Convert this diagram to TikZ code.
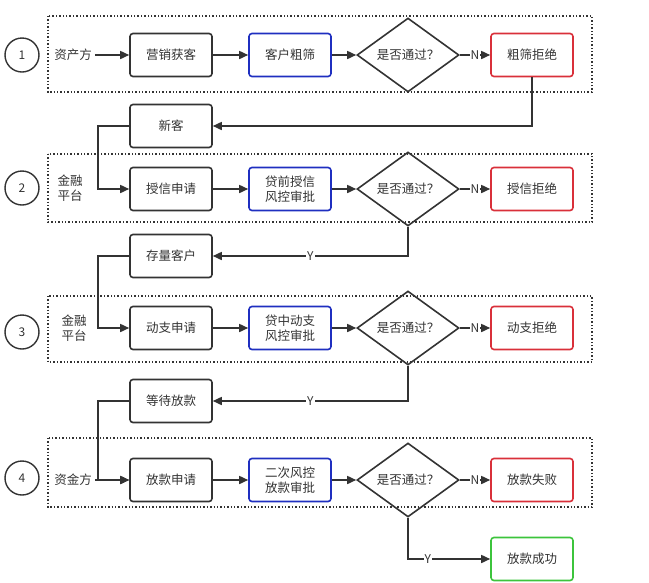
\documentclass[tikz,border=0pt]{standalone}
\usepackage{fontspec}
\setmainfont{Noto Sans CJK SC}
\usetikzlibrary{shapes.geometric,arrows.meta}
\definecolor{dk}{HTML}{333333}
\definecolor{bl}{HTML}{1F2FC0}
\definecolor{rd}{HTML}{D9303A}
\definecolor{gn}{HTML}{3CC43C}
\begin{document}
\begin{tikzpicture}[x=1pt,y=-1pt,
  font=\fontsize{12.5}{14}\selectfont, text=dk,
  box/.style={draw=dk,line width=1.6pt,rounded corners=3pt,minimum width=82pt,minimum height=43pt,align=center,inner sep=1pt,font=\fontsize{12.5}{15}\selectfont},
  bbox/.style={box,draw=bl},
  rbox/.style={box,draw=rd},
  gbox/.style={box,draw=gn},
  dia/.style={diamond,draw=dk,line width=1.6pt,minimum width=102pt,minimum height=58pt,inner sep=0pt,font=\fontsize{12.5}{14}\selectfont},
  circ/.style={circle,draw=dk,line width=1.4pt,minimum size=34pt,inner sep=0pt,font=\fontsize{12}{14}\selectfont},
  zone/.style={draw=dk,line width=1.4pt,dotted},
  arr/.style={draw=dk,line width=1.6pt,-{Triangle[width=8pt,length=9pt]}},
  lbl/.style={fill=white,inner sep=1pt,font=\fontsize{12}{13}\selectfont},
  side/.style={align=left,inner sep=0pt,font=\fontsize{12.5}{15}\selectfont}]
\useasboundingbox (0,0) rectangle (649,582);
\draw[zone] (48,16) rectangle (592,92);
\draw[zone] (48,154) rectangle (592,222);
\draw[zone] (48,296) rectangle (592,362);
\draw[zone] (48,438) rectangle (592,507);
\node[circ] (c1) at (22,55) {1};
\node[circ] (c2) at (22,188) {2};
\node[circ] (c3) at (22,332) {3};
\node[circ] (c4) at (22,478) {4};
\node[side] (s1) at (73,55) {资产方};
\node[side] (s2) at (70,188) {金融\\平台};
\node[side] (s3) at (74,328) {金融\\平台};
\node[side] (s4) at (73,480) {资金方};
\node[box] (a1) at (171,55) {营销获客};
\node[bbox] (b1) at (290,55) {客户粗筛};
\node[dia] (d1) at (408,55) {是否通过？};
\node[rbox] (r1) at (532,55) {粗筛拒绝};
\node[box] (n2) at (171,126) {新客};
\node[box] (a2) at (171,189) {授信申请};
\node[bbox] (b2) at (290,189) {贷前授信\\风控审批};
\node[dia] (d2) at (408,189) {是否通过？};
\node[rbox] (r2) at (532,189) {授信拒绝};
\node[box] (n3) at (171,256) {存量客户};
\node[box] (a3) at (171,328) {动支申请};
\node[bbox] (b3) at (290,328) {贷中动支\\风控审批};
\node[dia] (d3) at (408,328) {是否通过？};
\node[rbox] (r3) at (532,328) {动支拒绝};
\node[box] (n4) at (171,401) {等待放款};
\node[box] (a4) at (171,480) {放款申请};
\node[bbox] (b4) at (290,480) {二次风控\\放款审批};
\node[dia] (d4) at (408,480) {是否通过？};
\node[rbox] (r4) at (532,480) {放款失败};
\node[gbox] (g4) at (532,559) {放款成功};
\foreach \i in {1,4}{\draw[arr] (s\i.east) ++(3,0) -- (a\i.west);}
\foreach \i in {1,2,3,4}{
  \draw[arr] (a\i) -- (b\i);
  \draw[arr] (b\i) -- (d\i);
  \draw[arr] (d\i) -- node[lbl] {N} (r\i);
}
\draw[arr] (r1.south) |- (n2.east);
\draw[arr] (n2.west) -- ++(-31,0) |- (a2.west);
\draw[arr] (d2.south) |- node[lbl,pos=0.75] {Y} (n3.east);
\draw[arr] (n3.west) -- ++(-31,0) |- (a3.west);
\draw[arr] (d3.south) |- node[lbl,pos=0.75] {Y} (n4.east);
\draw[arr] (n4.west) -- ++(-31,0) |- (a4.west);
\draw[arr] (d4.south) |- node[lbl,pos=0.62] {Y} (g4.west);
\end{tikzpicture}
\end{document}
